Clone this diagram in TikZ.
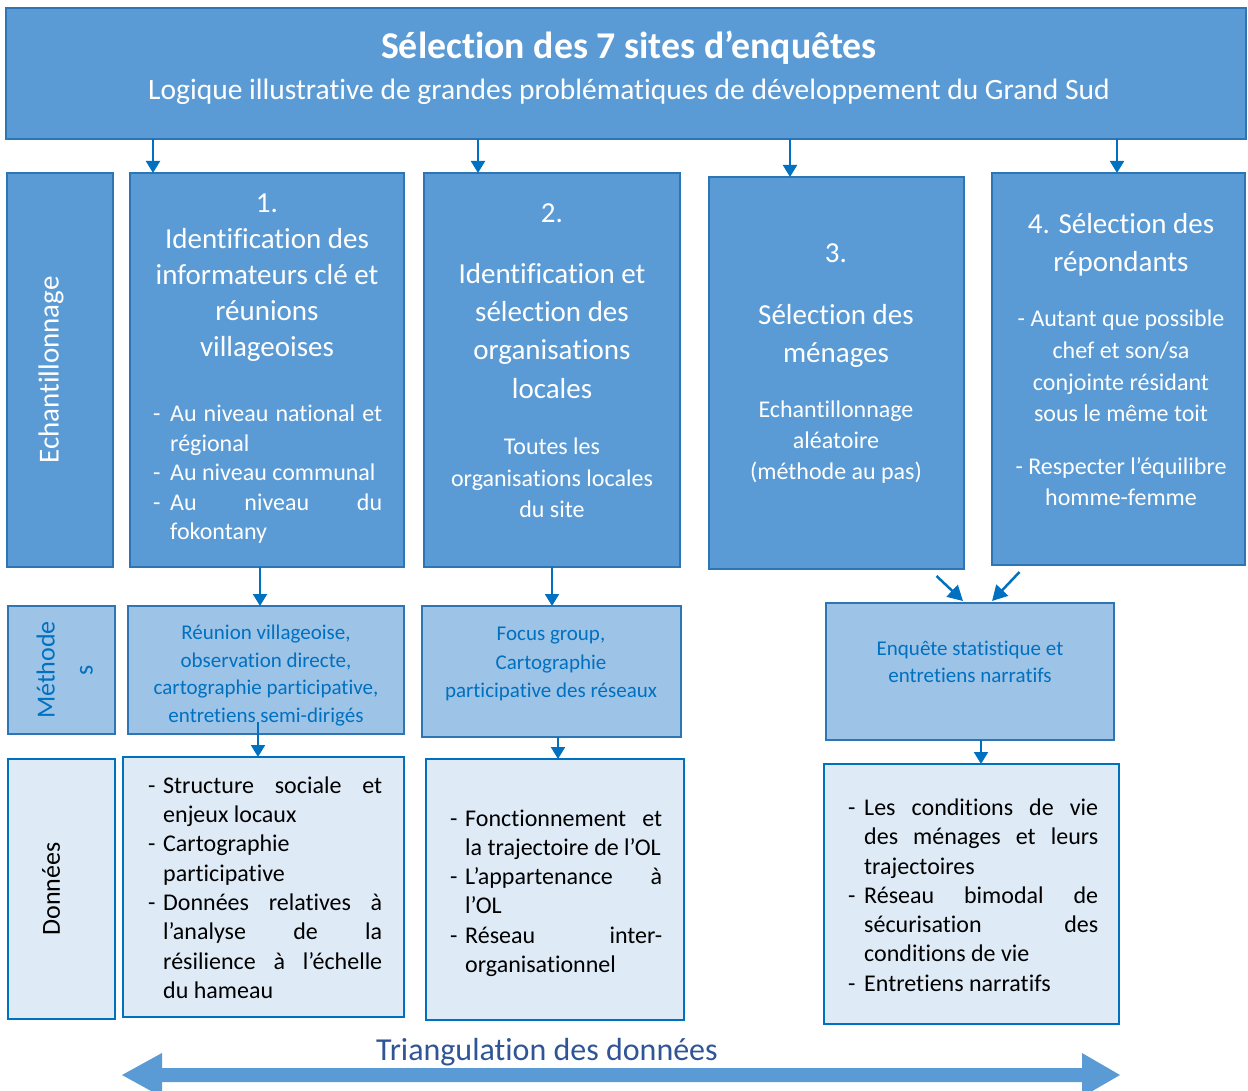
\documentclass[tikz,border=0pt]{standalone}
\usepackage{fontspec}
\setmainfont{Carlito}[Ligatures=NoCommon]
\usetikzlibrary{arrows.meta,calc}
\definecolor{mainfill}{HTML}{5B9BD5}
\definecolor{mainline}{HTML}{2E75B6}
\definecolor{methfill}{HTML}{9DC3E6}
\definecolor{datafill}{HTML}{DEEBF7}
\definecolor{arrowblue}{HTML}{0070C0}
\definecolor{triblue}{HTML}{2F5597}
\newcommand{\fs}[2]{\fontsize{#1}{#2}\selectfont}
\newcommand{\J}[2]{\makebox[#1][s]{#2}}
\newcommand{\D}[1]{\makebox[#1][l]{-}}
\newcommand{\E}[1]{\makebox[#1][l]{}}
\tikzset{
  box/.style={draw=mainline, line width=2.5pt, inner sep=0pt, outer sep=0pt, anchor=north west},
  mainbox/.style={box, fill=mainfill},
  methbox/.style={box, fill=methfill},
  databox/.style={box, fill=datafill, draw=arrowblue},
  arr/.style={draw=arrowblue, line width=2pt, -{Triangle[length=12pt,width=14pt]}},
  darr/.style={draw=arrowblue, line width=2.5pt, -{Triangle[length=15pt,width=16pt]}},
  wtxt/.style={text=white, align=center, inner sep=0pt, yshift=-2.5pt},
  btxt/.style={text=arrowblue, align=center, inner sep=0pt, yshift=-2pt},
  ktxt/.style={text=black, align=left, inner sep=0pt, anchor=west, yshift=-2.5pt},
  lwtxt/.style={text=white, align=left, inner sep=0pt, anchor=west, yshift=-2.5pt},
}
\begin{document}
\begin{tikzpicture}[x=1pt,y=-1pt]
\useasboundingbox (0,0) rectangle (1248,1091);
% top box
\node[mainbox, minimum width=1240pt, minimum height=131pt] (top) at (6,8) {};
\node[wtxt, font=\fs{37.8}{44}\bfseries] (title) at (629,45) {Sélection des 7 sites d’enquêtes};
\node[wtxt, font=\fs{29.5}{35}] (subtitle) at (629,89) {Logique illustrative de grandes problématiques de développement du Grand Sud};
% row 1
\node[mainbox, minimum width=106pt, minimum height=394pt] (ech) at (7,173) {};
\node[text=white, inner sep=0pt, rotate=90, font=\fs{29}{35}] (echt) at (51,370) {Echantillonnage};
\node[mainbox, minimum width=274pt, minimum height=394pt] (b1) at (130,173) {};
\node[mainbox, minimum width=256pt, minimum height=394pt] (b2) at (424,173) {};
\node[mainbox, minimum width=255pt, minimum height=392pt] (b3) at (709,177) {};
\node[mainbox, minimum width=253pt, minimum height=392pt] (b4) at (992,173) {};
% box 1 text
\node[wtxt, font=\fs{29}{36}] (b1h) at (267,275) {1.\strut\\Identification des\strut\\informateurs clé et\strut\\réunions\strut\\villageoises\strut};
\node[lwtxt, font=\fs{24}{29.5}] (b1l) at (153,472.5) {%
\D{17pt}\J{212pt}{Au niveau national et}\strut\\
\E{17pt}régional\strut\\
\D{17pt}Au niveau communal\strut\\
\D{17pt}\J{212pt}{Au niveau du}\strut\\
\E{17pt}fokontany\strut};
% box 2 text
\node[wtxt, font=\fs{29}{36}] (b2n) at (552,213) {2.\strut};
\node[wtxt, font=\fs{29}{38.3}] (b2h) at (552,330.5) {Identification et\strut\\sélection des\strut\\organisations\strut\\locales\strut};
\node[wtxt, font=\fs{24}{31.5}] (b2l) at (552,477.5) {Toutes les\strut\\organisations locales\strut\\du site\strut};
% box 3 text
\node[wtxt, font=\fs{29}{36}] (b3n) at (836,253) {3.\strut};
\node[wtxt, font=\fs{29}{38}] (b3h) at (836,333) {Sélection des\strut\\ménages\strut};
\node[wtxt, font=\fs{24}{31}] (b3l) at (836,440) {Echantillonnage\strut\\aléatoire\strut\\(méthode au pas)\strut};
% box 4 text
\node[wtxt, font=\fs{29}{38}] (b4h) at (1121,242) {4. Sélection des\strut\\répondants\strut};
\node[wtxt, font=\fs{24}{31.7}] (b4l) at (1121,365.5) {- Autant que possible\strut\\chef et son/sa\strut\\conjointe résidant\strut\\sous le même toit\strut};
\node[wtxt, font=\fs{24}{31}] (b4m) at (1121,481.5) {- Respecter l’équilibre\strut\\homme-femme\strut};
% row 2
\node[methbox, minimum width=107pt, minimum height=128pt] (met) at (8,606) {};
\node[text=arrowblue, align=center, inner sep=0pt, rotate=90, font=\fs{26}{38}] (mett) at (66,670) {Méthode\strut\\s\strut};
\node[methbox, minimum width=276pt, minimum height=128pt] (m1) at (128,606) {};
\node[methbox, minimum width=259pt, minimum height=131pt] (m2) at (422,606) {};
\node[methbox, minimum width=288pt, minimum height=137pt] (m3) at (826,603) {};
\node[btxt, font=\fs{21}{27.7}] (m1t) at (266,673.5) {Réunion villageoise,\strut\\observation directe,\strut\\cartographie participative,\strut\\entretiens semi-dirigés\strut};
\node[btxt, font=\fs{21}{28.5}] (m2t) at (551,661.5) {Focus group,\strut\\Cartographie\strut\\participative des réseaux\strut};
\node[btxt, font=\fs{21}{27}] (m3t) at (970,661.5) {Enquête statistique et\strut\\entretiens narratifs\strut};
% row 3
\node[databox, minimum width=107pt, minimum height=260pt] (don) at (8,759) {};
\node[text=black, rotate=90, inner sep=0pt, font=\fs{26}{32}] (dont) at (51,889) {Données};
\node[databox, minimum width=281pt, minimum height=260pt] (d1) at (123,757) {};
\node[databox, minimum width=258pt, minimum height=261pt] (d2) at (426,759) {};
\node[databox, minimum width=295pt, minimum height=260pt] (d3) at (824,764) {};
\node[ktxt, font=\fs{24}{29.3}] (d1t) at (148,887.5) {%
\D{15pt}\J{219pt}{Structure sociale et}\strut\\
\E{15pt}enjeux locaux\strut\\
\D{15pt}Cartographie\strut\\
\E{15pt}participative\strut\\
\D{15pt}\J{219pt}{Données relatives à}\strut\\
\E{15pt}\J{219pt}{l’analyse de la}\strut\\
\E{15pt}\J{219pt}{résilience à l’échelle}\strut\\
\E{15pt}du hameau\strut};
\node[ktxt, font=\fs{24}{29.2}] (d2t) at (450,891) {%
\D{15pt}\J{197pt}{Fonctionnement et}\strut\\
\E{15pt}la trajectoire de l’OL\strut\\
\D{15pt}\J{197pt}{L’appartenance à}\strut\\
\E{15pt}l’OL\strut\\
\D{15pt}\J{197pt}{Réseau inter-}\strut\\
\E{15pt}organisationnel\strut};
\node[ktxt, font=\fs{24}{29.3}] (d3t) at (848,895) {%
\D{16pt}\J{234pt}{Les conditions de vie}\strut\\
\E{16pt}\J{234pt}{des ménages et leurs}\strut\\
\E{16pt}trajectoires\strut\\
\D{16pt}\J{234pt}{Réseau bimodal de}\strut\\
\E{16pt}\J{234pt}{sécurisation des}\strut\\
\E{16pt}conditions de vie\strut\\
\D{16pt}Entretiens narratifs\strut};
% arrows from top
\draw[arr] ($(top.south west)+(147,0)$) coordinate (t) -- (t |- b1.north);
\draw[arr] ($(top.south west)+(472,0)$) coordinate (t) -- (t |- b2.north);
\draw[arr] ($(top.south west)+(784,0)$) coordinate (t) -- (t |- b3.north);
\draw[arr] ($(top.south west)+(1111,0)$) coordinate (t) -- (t |- b4.north);
% row 1 -> row 2
\draw[arr] ($(b1.south)+(-7,0)$) coordinate (t) -- (t |- m1.north);
\draw[arr] ($(b2.south)+(0,0)$) coordinate (t) -- (t |- m2.north);
\draw[darr] ($(b3.south)+(100,7)$) -- ($(m3.north)+(-7,-2)$);
\draw[darr] ($(b4.south)+(-99,7)$) -- ($(m3.north)+(22,-2)$);
% row 2 -> row 3
\draw[arr] ($(m1.south)+(-8,-12)$) coordinate (t) -- (t |- d1.north);
\draw[arr] ($(m2.south)+(6.5,0)$) coordinate (t) -- (t |- d2.north);
\draw[arr] ($(m3.south)+(11,0)$) coordinate (t) -- (t |- d3.north);
% triangulation arrow
\fill[mainfill] (122,1075) -- (162,1053) -- (162,1068) -- (1082,1068) -- (1082,1053) -- (1120,1075) -- (1082,1097) -- (1082,1082) -- (162,1082) -- (162,1097) -- cycle;
\node[text=triblue, inner sep=0pt, font=\fs{32}{38}] (tri) at (547,1052) {Triangulation des données};
\end{tikzpicture}
\end{document}
